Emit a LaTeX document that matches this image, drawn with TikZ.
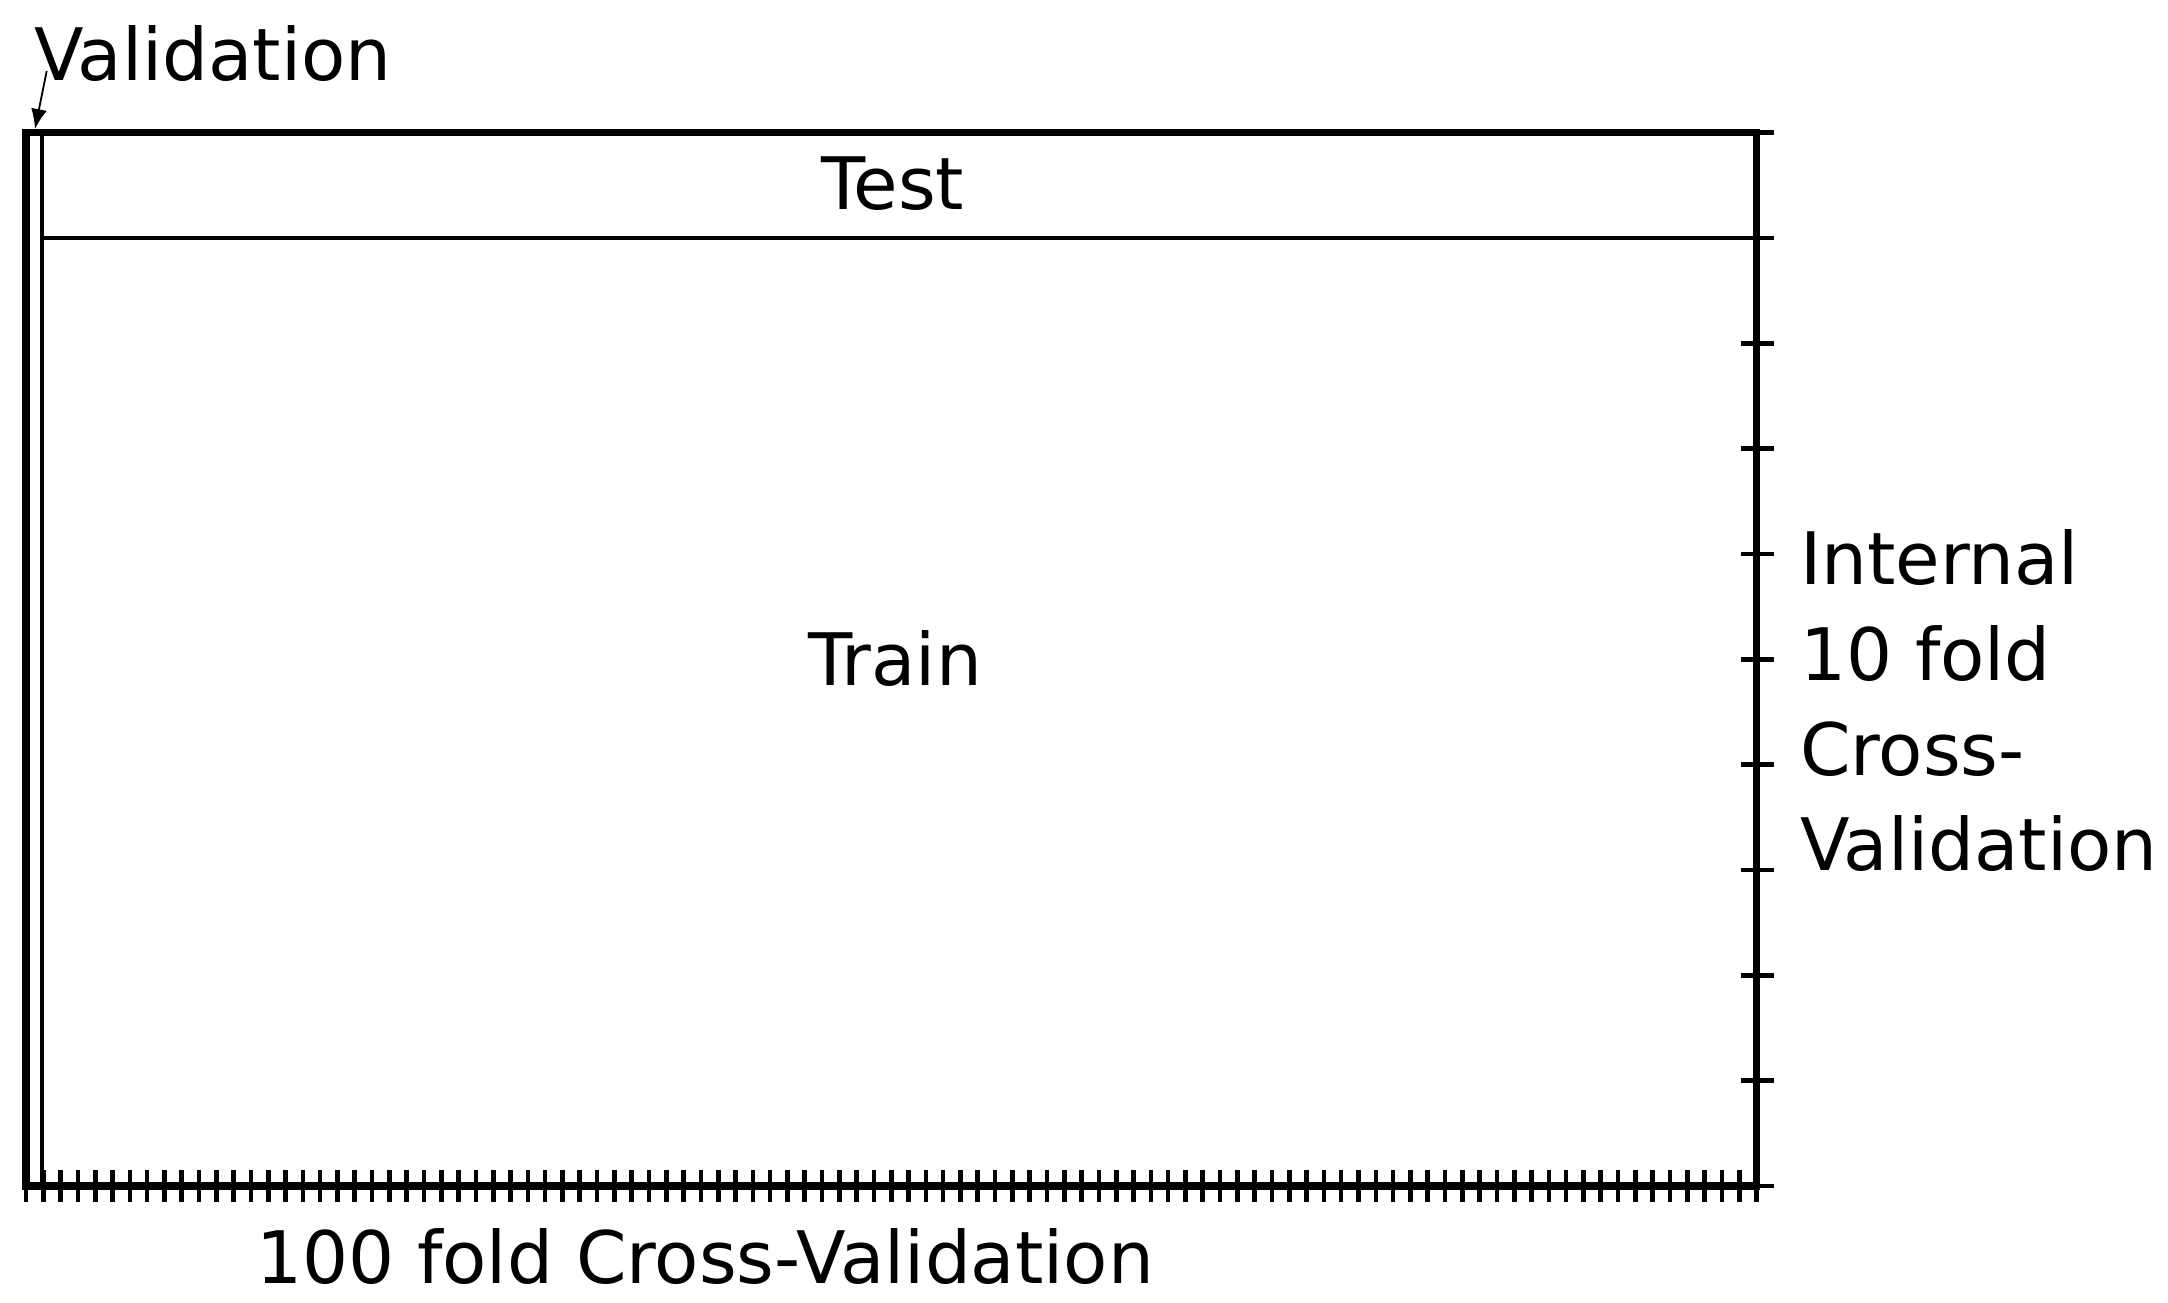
\documentclass[tikz,border=0pt]{standalone}
\usepackage{fontspec}
\setmainfont{DejaVu Sans}
\usetikzlibrary{arrows.meta}
\begin{document}
\begin{tikzpicture}[x=0.5pt,y=-0.5pt,
  lbl/.style={inner sep=0pt,outer sep=0pt,font=\fontsize{36.2}{47.65}\selectfont},
  outerbox/.style={line width=3.75pt},
  thinline/.style={line width=2.1pt},
  tickline/.style={line width=2.3pt},
  pointer/.style={line width=0.9pt,-{Latex[length=10pt,width=8pt]}}]
\useasboundingbox (0,0) rectangle (2168,1302);
% frame
\draw[outerbox] (26,132.5) rectangle (1756.5,1186);
\draw[thinline] (42,132.5) -- (42,1186);
\draw[thinline] (42,238) -- (1756.5,238);
% bottom ticks (100 folds)
\foreach \k in {0,...,100}{
  \draw[tickline] ({26+17.305*\k},1170) -- ({26+17.305*\k},1202);
}
% right ticks (10 folds)
\foreach \k in {0,...,10}{
  \draw[tickline] (1741,{132.5+105.35*\k}) -- (1774,{132.5+105.35*\k});
}
% labels
\node[lbl,anchor=base west] (val) at (34,80) {Validation};
\node[lbl,anchor=base] (test) at (893,209) {Test};
\node[lbl,anchor=base] (train) at (895,685) {Train};
\node[lbl,anchor=base west] (r1) at (1800,584) {Internal};
\node[lbl,anchor=base west] (r2) at (1800,680) {10 fold};
\node[lbl,anchor=base west] (r3) at (1800,775) {Cross-};
\node[lbl,anchor=base west] (r4) at (1800,870) {Validation};
\node[lbl,anchor=base] (bottom) at (705,1283) {100 fold Cross-Validation};
% arrow
\coordinate (valstart) at (46.7,71);
\coordinate (valtop) at (35,129);
\draw[pointer] (valstart) -- (valtop);
\end{tikzpicture}
\end{document}
